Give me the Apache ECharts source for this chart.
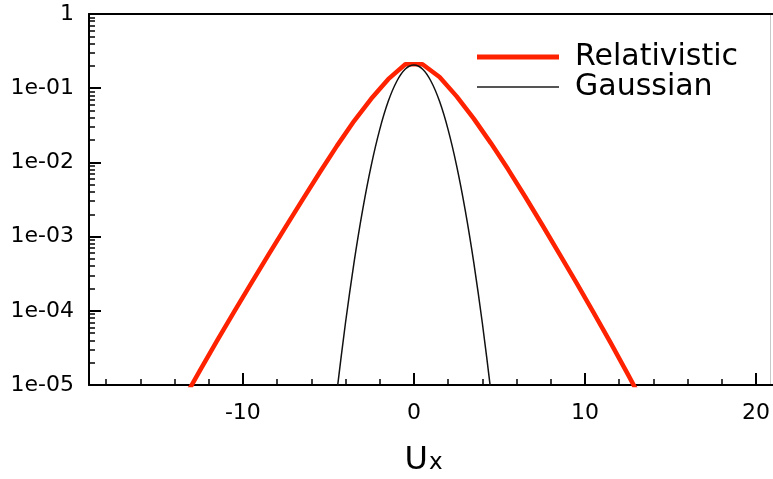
<!DOCTYPE html>
<html>
<head>
<meta charset="utf-8">
<script src="https://cdn.jsdelivr.net/npm/echarts@6/dist/echarts.min.js"></script>
<style>
  html, body { margin: 0; padding: 0; background: #ffffff; }
  #chart { width: 773px; height: 479px; }
</style>
</head>
<body>
<div id="chart"></div>
<script>
// Relativistic distribution of Ux (sampled at half-integer Ux)
const relX = [-13.5, -12.5, -11.5, -10.5, -9.5, -8.5, -7.5, -6.5, -5.5, -4.5, -3.5, -2.5, -1.5, -0.5,
              0.5, 1.5, 2.5, 3.5, 4.5, 5.5, 6.5, 7.5, 8.5, 9.5, 10.5, 11.5, 12.5, 13.5];
const relY = [6.2e-6, 1.59e-5, 4.0e-5, 9.8e-5, 2.38e-4, 5.71e-4, 1.355e-3, 3.18e-3, 7.36e-3, 0.0167, 0.0361, 0.0719, 0.1324, 0.21,
              0.21, 0.1413, 0.0776, 0.0389, 0.0182, 8.13e-3, 3.47e-3, 1.445e-3, 5.89e-4, 2.40e-4, 9.55e-5, 3.72e-5, 1.41e-5, 5.25e-6];

// Gaussian distribution of Ux
const gauX = [-5, -4.5, -4, -3.5, -3, -2.5, -2, -1.5, -1, -0.5, 0, 0.5, 1, 1.5, 2, 2.5, 3, 3.5, 4, 4.5, 5];
const gauY = [7.6e-7, 8.2e-6, 6.9e-5, 4.5e-4, 2.28e-3, 9.0e-3, 0.0277, 0.0665, 0.124, 0.181, 0.205,
              0.181, 0.124, 0.0665, 0.0277, 9.0e-3, 2.28e-3, 4.5e-4, 6.9e-5, 8.2e-6, 7.6e-7];

const seriesNames = ['Relativistic', 'Gaussian'];

// Axis ticks
const xMajorTicks = [-10, 0, 10, 20];
const xMinorTicks = [-18, -16, -14, -12, -8, -6, -4, -2, 2, 4, 6, 8, 12, 14, 16, 18];
const yDecades = [1e-5, 1e-4, 1e-3, 1e-2, 1e-1, 1];
const yMinorSteps = [2, 3, 4, 5, 6, 7, 8, 9];

const yMinorTicks = [];
yDecades.slice(0, -1).forEach(d => yMinorSteps.forEach(m => yMinorTicks.push(d * m)));

const FONT = 'DejaVu Sans';
const RED = '#ff2200';
const zip = (xs, ys) => xs.map((x, i) => [x, ys[i]]);

function decadeLabel(v) {
  const e = Math.round(Math.log10(v));
  if (e === 0) return '1';
  return '1e-' + String(-e).padStart(2, '0');
}

const chart = echarts.init(document.getElementById('chart'), null, { renderer: 'canvas' });

chart.setOption({
  animation: false,
  backgroundColor: '#ffffff',
  grid: { left: 89, right: 0, top: 14, bottom: 94, containLabel: false, outerBoundsMode: 'none' },
  legend: [
    {
      data: [seriesNames[0]],
      left: 477, top: 42, padding: 0,
      icon: 'rect', itemWidth: 82, itemHeight: 5,
      itemStyle: { color: RED },
      textStyle: { fontFamily: FONT, fontSize: 30, color: '#000', lineHeight: 30, padding: [0, 0, 0, 11] }
    },
    {
      data: [seriesNames[1]],
      left: 477, top: 67, padding: 0,
      icon: 'rect', itemWidth: 82, itemHeight: 2,
      itemStyle: { color: '#555555' },
      textStyle: { fontFamily: FONT, fontSize: 30, color: '#000', lineHeight: 30, padding: [0, 0, 10, 11] }
    }
  ],
  xAxis: [
    {
      type: 'value', min: -19, max: 21, position: 'bottom',
      axisLine: { show: true, onZero: false, lineStyle: { color: '#000', width: 2 } },
      axisTick: { show: true, inside: true, length: 12, customValues: xMajorTicks, lineStyle: { color: '#000', width: 2 } },
      axisLabel: { show: true, customValues: xMajorTicks, margin: 17, fontFamily: FONT, fontSize: 22, color: '#000' },
      splitLine: { show: false },
      name: '{u|U}{x|x}',
      nameLocation: 'middle',
      nameGap: 58,
      nameTextStyle: {
        padding: [0, 15, 0, 0],
        rich: {
          u: { fontFamily: FONT, fontSize: 32, color: '#000', verticalAlign: 'bottom', lineHeight: 34 },
          x: { fontFamily: FONT, fontSize: 23, color: '#000', verticalAlign: 'bottom', lineHeight: 34, padding: [0, 0, 2, 1] }
        }
      }
    },
    {
      type: 'value', min: -19, max: 21, position: 'bottom',
      axisLine: { show: false, onZero: false },
      axisTick: { show: true, inside: true, length: 6, customValues: xMinorTicks, lineStyle: { color: '#000', width: 1.5 } },
      axisLabel: { show: false },
      splitLine: { show: false }
    },
    {
      type: 'value', min: -19, max: 21, position: 'top',
      axisLine: { show: true, onZero: false, lineStyle: { color: '#000', width: 2 } },
      axisTick: { show: false },
      axisLabel: { show: false },
      splitLine: { show: false }
    }
  ],
  yAxis: [
    {
      type: 'log', logBase: 10, min: 1e-5, max: 1, position: 'left',
      axisLine: { show: true, onZero: false, lineStyle: { color: '#000', width: 2 } },
      axisTick: { show: true, inside: true, length: 12, customValues: yDecades, lineStyle: { color: '#000', width: 2 } },
      axisLabel: { show: true, customValues: yDecades, margin: 15, fontFamily: FONT, fontSize: 22, color: '#000', formatter: decadeLabel },
      splitLine: { show: false }
    },
    {
      type: 'log', logBase: 10, min: 1e-5, max: 1, position: 'left',
      axisLine: { show: false, onZero: false },
      axisTick: { show: true, inside: true, length: 6, customValues: yMinorTicks, lineStyle: { color: '#000', width: 1.5 } },
      axisLabel: { show: false },
      splitLine: { show: false }
    },
    {
      type: 'log', logBase: 10, min: 1e-5, max: 1, position: 'right', offset: -3,
      axisLine: { show: true, onZero: false, lineStyle: { color: '#c8c8c8', width: 1 } },
      axisTick: { show: false },
      axisLabel: { show: false },
      splitLine: { show: false }
    }
  ],
  series: [
    {
      name: seriesNames[0], type: 'line', xAxisIndex: 0, yAxisIndex: 0,
      data: zip(relX, relY), symbol: 'none', clip: true,
      lineStyle: { color: RED, width: 4.5, join: 'round' },
      itemStyle: { color: RED }
    },
    {
      name: seriesNames[1], type: 'line', xAxisIndex: 0, yAxisIndex: 0,
      data: zip(gauX, gauY), symbol: 'none', clip: true, smooth: 0.3,
      lineStyle: { color: '#111111', width: 1.5 },
      itemStyle: { color: '#111111' }
    }
  ]
});
</script>
</body>
</html>
